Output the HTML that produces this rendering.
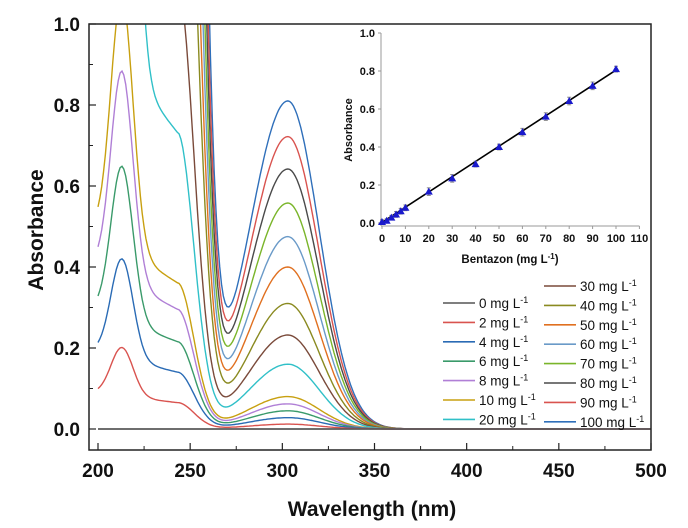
<!DOCTYPE html>
<html><head><meta charset="utf-8"><style>
html,body{margin:0;padding:0;background:#fff;}
svg{display:block;font-family:"Liberation Sans",Arial,sans-serif;}
</style></head><body>
<svg id="chart" width="688" height="528" viewBox="0 0 688 528">
<defs><clipPath id="plotclip"><rect x="89" y="24" width="562" height="426"/></clipPath></defs>
<g id="main"></g>
<g id="inset"></g>
</svg>
<script>
// ---- main spectra data ----
const concLabels = ["0","2","4","6","8","10","20","30","40","50","60","70","80","90","100"];
const seriesColors = ["#555555","#d9534f","#2a6bb5","#3a9a6a","#b07fd6","#c8a010","#30c0c8","#7a4a3a","#8a8a20","#e07020","#6a9ac8","#7ab52a","#4a4a4a","#d9534f","#2f6fba"];
const peak213 = [0,0.12,0.245,0.38,0.515,0.62,1.6,2.4,3.2,4.0,4.8,5.6,6.4,7.2,8.0];
const shoulder243 = [0,0.065,0.14,0.215,0.295,0.36,0.73,1.1,2.1,2.6,3.2,3.8,4.5,5.2,6.0];
const peak303 = [0,0.012,0.028,0.045,0.062,0.08,0.16,0.232,0.31,0.40,0.475,0.558,0.642,0.722,0.81];
// ---- inset data ----
const insetConc = [0,2,4,6,8,10,20,30,40,50,60,70,80,90,100];
const insetAbs = [0.005,0.012,0.028,0.045,0.062,0.08,0.165,0.235,0.31,0.40,0.478,0.56,0.642,0.722,0.81];
const insetErr = [0.012,0.01,0.012,0.015,0.015,0.015,0.02,0.02,0.015,0.015,0.02,0.02,0.02,0.02,0.015];
const fitLine = [0,0.003,100,0.805];
const xTicksMain = [200,250,300,350,400,450,500];
const yTicksMain = [0.0,0.2,0.4,0.6,0.8,1.0];
const xTicksInset = [0,10,20,30,40,50,60,70,80,90,100,110];
const yTicksInset = [0.0,0.2,0.4,0.6,0.8,1.0];

const NS="http://www.w3.org/2000/svg";
function mk(tag,attrs,parent,txt){const e=document.createElementNS(NS,tag);for(const k in attrs)e.setAttribute(k,attrs[k]);if(txt!==undefined)e.textContent=txt;parent.appendChild(e);return e;}
const X=w=>98+(w-200)*553/300;
const Y=a=>429-a*405;
const main=document.getElementById('main');

function spec(i,w){
  let v=peak213[i]*Math.exp(-Math.pow(w-213,2)/72);
  v+= w<243 ? shoulder243[i]*(1+0.25*(243-w)/30) : shoulder243[i]*Math.exp(-Math.pow(w-243,2)/162);
  const s = w<303 ? 21 : 17;
  v+=peak303[i]*Math.exp(-Math.pow(w-303,2)/(2*s*s));
  return v;
}
let bl=mk('line',{x1:98,y1:Y(0),x2:651,y2:Y(0),stroke:'#777','stroke-width':1.5},main);


const cg=mk('g',{'clip-path':'url(#plotclip)'},main);
for(let i=concLabels.length-1;i>=0;i--){
  let d='';
  for(let w=200;w<=500;w+=1){d+=(w===200?'M':'L')+X(w).toFixed(1)+','+Y(spec(i,w)).toFixed(1);}
  const p=mk('path',{d:d,fill:'none',stroke:seriesColors[i],'stroke-width':1.4},cg);
  
  
}
const fr=mk('rect',{x:89,y:24,width:562,height:426,fill:'none',stroke:'#222','stroke-width':1.5},main);


xTicksMain.forEach(t=>{
  mk('line',{x1:X(t),y1:450,x2:X(t),y2:443,stroke:'#222','stroke-width':1.2},main);
  if(t<500) mk('line',{x1:X(t+25),y1:450,x2:X(t+25),y2:446,stroke:'#222','stroke-width':1},main);
  const tx=mk('text',{x:X(t),y:477,'text-anchor':'middle','font-size':19,'font-weight':'bold',fill:'#111'},main,String(t));
  
  
});
yTicksMain.forEach(t=>{
  mk('line',{x1:89,y1:Y(t),x2:96,y2:Y(t),stroke:'#222','stroke-width':1.2},main);
  if(t<1) mk('line',{x1:89,y1:Y(t+0.1),x2:93,y2:Y(t+0.1),stroke:'#222','stroke-width':1},main);
  const tx=mk('text',{x:80,y:Y(t)+7,'text-anchor':'end','font-size':19,'font-weight':'bold',fill:'#111'},main,t.toFixed(1));
  
  
});
let yt=mk('text',{x:0,y:0,transform:'translate(43,230) rotate(-90)','text-anchor':'middle','font-size':21,'font-weight':'bold',fill:'#111'},main,'Absorbance');


let xt=mk('text',{x:372,y:516,'text-anchor':'middle','font-size':21,'font-weight':'bold',fill:'#111'},main,'Wavelength (nm)');


const lg=mk('g',{},main);


concLabels.forEach((c,i)=>{
  const col=i<7?0:1, row=i<7?i:i-7;
  const lx=col?544:443, ly=(col?286:303)+row*19.4;
  const e=mk('g',{},lg);
  
  
  mk('line',{x1:lx,y1:ly,x2:lx+32,y2:ly,stroke:seriesColors[i],'stroke-width':1.6},e);
  const t=mk('text',{x:lx+36,y:ly+5,'font-size':13.5,fill:'#111'},e,c+' mg L');
  mk('tspan',{dy:-5,'font-size':9},t,'-1');
});
// ---- inset ----
const ins=document.getElementById('inset');
const IX=c=>382+c*2.34;
const IY=a=>223-a*190;
mk('line',{x1:381,y1:33,x2:381,y2:226,stroke:'#999','stroke-width':1},ins);
mk('line',{x1:381,y1:226,x2:IX(110),y2:226,stroke:'#999','stroke-width':1},ins);
xTicksInset.forEach(t=>{
  mk('line',{x1:IX(t),y1:226,x2:IX(t),y2:229,stroke:'#999'},ins);
  const tx=mk('text',{x:IX(t),y:242,'text-anchor':'middle','font-size':11,'font-weight':'bold',fill:'#111'},ins,String(t));
  
  
});
yTicksInset.forEach(t=>{
  mk('line',{x1:378,y1:IY(t),x2:381,y2:IY(t),stroke:'#999'},ins);
  const tx=mk('text',{x:375,y:IY(t)+4,'text-anchor':'end','font-size':11,'font-weight':'bold',fill:'#111'},ins,t.toFixed(1));
  
  
});
let iy=mk('text',{x:0,y:0,transform:'translate(352,130) rotate(-90)','text-anchor':'middle','font-size':11,'font-weight':'bold',fill:'#111'},ins,'Absorbance');


let ix=mk('text',{x:510,y:263,'text-anchor':'middle','font-size':11.5,'font-weight':'bold',fill:'#111'},ins,'Bentazon (mg L');
mk('tspan',{dy:-4,'font-size':8},ix,'-1');
mk('tspan',{dy:4},ix,')');


let fl=mk('line',{x1:IX(fitLine[0]),y1:IY(fitLine[1]),x2:IX(fitLine[2]),y2:IY(fitLine[3]),stroke:'#000','stroke-width':1.6},ins);


insetConc.forEach((c,i)=>{
  const x=IX(c),y=IY(insetAbs[i]),e=insetErr[i]*190;
  const g=mk('g',{},ins);
  
  
  mk('line',{x1:x,y1:y-e,x2:x,y2:y+e,stroke:'#888','stroke-width':1},g);
  mk('line',{x1:x-2,y1:y-e,x2:x+2,y2:y-e,stroke:'#888','stroke-width':1},g);
  mk('line',{x1:x-2,y1:y+e,x2:x+2,y2:y+e,stroke:'#888','stroke-width':1},g);
  mk('polygon',{points:`${x},${y-4} ${x-4},${y+3} ${x+4},${y+3}`,fill:'#1a1acc'},g);
});
</script>
</body></html>
